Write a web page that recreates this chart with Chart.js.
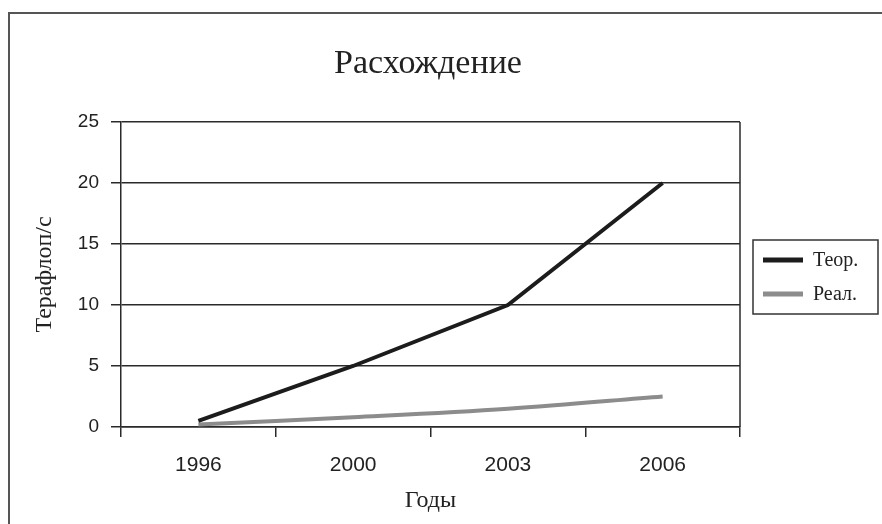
<!DOCTYPE html>
<html>
<head>
<meta charset="utf-8">
<script src="https://cdn.jsdelivr.net/npm/chart.js@4"></script>
<style>
html,body{margin:0;padding:0;background:#fff;}
#wrap{position:relative;width:882px;height:524px;}
</style>
</head>
<body>
<div id="wrap"><canvas id="c" width="882" height="524"></canvas></div>
<script>
const chartTitle = 'Расхождение';
const xTitle = 'Годы';
const yTitle = 'Терафлоп/с';
const categories = ['1996', '2000', '2003', '2006'];
const seriesNames = ['Теор.', 'Реал.'];
const teorValues = [0.5, 5, 10, 20];
const realValues = [0.2, 0.8, 1.5, 2.5];
const yTicks = [0, 5, 10, 15, 20, 25];

const SERIF = '"Liberation Serif", "Times New Roman", serif';
const SANS = '"Liberation Sans", Arial, sans-serif';
const INK = '#2a2a2a';

const decor = {
  id: 'decor',
  afterDraw(chart) {
    const ctx = chart.ctx;
    const a = chart.chartArea;
    ctx.save();
    // outer frame
    ctx.strokeStyle = '#555';
    ctx.lineWidth = 2;
    ctx.strokeRect(9, 13, 1000, 1000);
    // right border of plot
    ctx.strokeStyle = INK;
    ctx.lineWidth = 1.5;
    ctx.beginPath();
    ctx.moveTo(a.right, a.top);
    ctx.lineTo(a.right, a.bottom);
    ctx.stroke();
    // title
    ctx.fillStyle = '#222';
    ctx.font = '34px ' + SERIF;
    ctx.textAlign = 'center';
    ctx.textBaseline = 'middle';
    ctx.fillText(chartTitle, 428, 64);
    // legend
    const lx = a.right + 13, ly = 240, lw = 125, lh = 74;
    ctx.strokeStyle = '#333';
    ctx.lineWidth = 1.5;
    ctx.strokeRect(lx, ly, lw, lh);
    ctx.font = '20px ' + SERIF;
    ctx.textAlign = 'left';
    chart.data.datasets.forEach((ds, i) => {
      const yy = ly + 20 + i * 34;
      ctx.strokeStyle = ds.borderColor;
      ctx.lineWidth = 5;
      ctx.beginPath();
      ctx.moveTo(lx + 10, yy);
      ctx.lineTo(lx + 50, yy);
      ctx.stroke();
      ctx.fillStyle = '#222';
      ctx.fillText(ds.label, lx + 60, yy + 1);
    });
    ctx.restore();
  }
};

new Chart(document.getElementById('c'), {
  type: 'line',
  data: {
    labels: categories,
    datasets: [
      { label: seriesNames[0], data: teorValues, borderColor: '#1c1c1c', borderWidth: 4, pointRadius: 0, tension: 0, fill: false },
      { label: seriesNames[1], data: realValues, borderColor: '#8c8c8c', borderWidth: 4, pointRadius: 0, tension: 0.35, fill: false }
    ]
  },
  options: {
    responsive: false,
    animation: false,
    layout: { padding: { top: 122, right: 142, bottom: 0, left: 0 } },
    plugins: {
      legend: { display: false },
      title: { display: false },
      tooltip: { enabled: false }
    },
    scales: {
      x: {
        offset: true,
        grid: { display: true, drawOnChartArea: false, drawTicks: true, tickLength: 10, offset: true, color: INK, lineWidth: 1.5 },
        border: { display: true, color: INK, width: 1.5 },
        ticks: { color: '#222', font: { family: SANS, size: 21 }, padding: 16, maxRotation: 0 },
        title: { display: true, text: xTitle, color: '#222', font: { family: SERIF, size: 24 }, padding: { top: 0, bottom: 9 } },
        afterFit(s) { s.height = 97; }
      },
      y: {
        min: 0, max: 25,
        afterBuildTicks(s) { s.ticks = yTicks.map(v => ({ value: v })); },
        grid: { color: INK, lineWidth: 1.5, drawTicks: true, tickLength: 10 },
        border: { display: true, color: INK, width: 1.5 },
        ticks: { color: '#222', font: { family: SANS, size: 19 }, padding: 12 },
        title: { display: true, text: yTitle, color: '#222', font: { family: SERIF, size: 24 }, padding: { top: 30, bottom: 0 } },
        afterFit(s) { s.width = 121; }
      }
    }
  },
  plugins: [decor]
});
</script>
</body>
</html>
